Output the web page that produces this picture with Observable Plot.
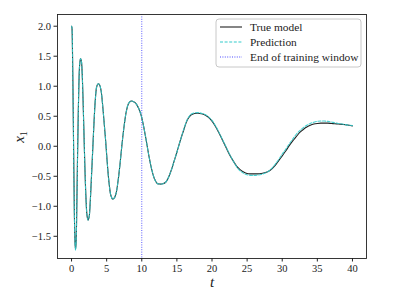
<!DOCTYPE html>
<html><head><meta charset="utf-8">
<script src="https://cdn.jsdelivr.net/npm/d3@7"></script>
<script src="https://cdn.jsdelivr.net/npm/@observablehq/plot@0.6"></script>
<style>
html,body{margin:0;padding:0;background:#fff;}
#chart{position:relative;width:407px;height:306px;}
</style>
</head><body><div id="chart"></div>
<script>
const tTrue = [0,0.05,0.12,0.2,0.3,0.4,0.5,0.57,0.65,0.75,0.85,0.95,1.05,1.15,1.28,1.4,1.5,1.62,1.75,1.9,2.05,2.2,2.35,2.5,2.65,2.8,3.0,3.2,3.4,3.6,3.8,4.0,4.2,4.4,4.6,4.85,5.1,5.35,5.6,5.85,6.1,6.35,6.6,6.9,7.2,7.5,7.8,8.1,8.4,8.7,9.0,9.3,9.6,9.9,10.2,10.6,11.0,11.4,11.8,12.2,12.6,13.0,13.4,13.8,14.2,14.6,15.0,15.5,16.0,16.5,17.0,17.5,18.0,18.5,19.0,19.5,20.0,20.5,21.0,21.5,22.0,22.5,23.0,23.5,24.0,24.5,25.0,25.5,26.0,26.5,27.0,27.5,28.0,28.5,29.0,29.5,30.0,30.5,31.0,31.5,32.0,32.5,33.0,33.5,34.0,34.5,35.0,35.5,36.0,36.5,37.0,37.5,38.0,38.5,39.0,39.5,40.0];
const xTrue = [2.0,1.98,1.7,1.0,-0.1,-1.1,-1.62,-1.72,-1.6,-1.0,-0.2,0.5,1.05,1.35,1.46,1.42,1.25,0.85,0.3,-0.35,-0.85,-1.15,-1.23,-1.18,-0.95,-0.6,-0.1,0.4,0.8,1.0,1.04,1.02,0.93,0.72,0.45,0.1,-0.3,-0.62,-0.82,-0.88,-0.86,-0.78,-0.6,-0.3,0.05,0.35,0.58,0.71,0.75,0.75,0.73,0.69,0.62,0.52,0.37,0.12,-0.15,-0.38,-0.54,-0.62,-0.63,-0.625,-0.6,-0.52,-0.4,-0.25,-0.1,0.1,0.28,0.44,0.52,0.545,0.55,0.54,0.52,0.48,0.42,0.33,0.22,0.1,-0.02,-0.14,-0.24,-0.33,-0.39,-0.43,-0.455,-0.46,-0.46,-0.46,-0.455,-0.44,-0.42,-0.38,-0.32,-0.24,-0.16,-0.08,0.01,0.09,0.16,0.23,0.28,0.32,0.35,0.37,0.38,0.385,0.385,0.385,0.38,0.375,0.37,0.365,0.36,0.35,0.34];
const tPred = [0,0.05,0.12,0.2,0.3,0.4,0.5,0.57,0.65,0.75,0.85,0.95,1.05,1.15,1.28,1.4,1.5,1.62,1.75,1.9,2.05,2.2,2.35,2.5,2.65,2.8,3.0,3.2,3.4,3.6,3.8,4.0,4.2,4.4,4.6,4.85,5.1,5.35,5.6,5.85,6.1,6.35,6.6,6.9,7.2,7.5,7.8,8.1,8.4,8.7,9.0,9.3,9.6,9.9,10.2,10.6,11.0,11.4,11.8,12.2,12.6,13.0,13.4,13.8,14.2,14.6,15.0,15.5,16.0,16.5,17.0,17.5,18.0,18.5,19.0,19.5,20.0,20.5,21.0,21.5,22.0,22.5,23.0,23.5,24.0,24.5,25.0,25.5,26.0,26.5,27.0,27.5,28.0,28.5,29.0,29.5,30.0,30.5,31.0,31.5,32.0,32.5,33.0,33.5,34.0,34.5,35.0,35.5,36.0,36.5,37.0,37.5,38.0,38.5,39.0,39.5,40.0];
const xPred = [2.0,1.98,1.7,1.0,-0.1,-1.1,-1.63,-1.73,-1.6,-1.0,-0.2,0.5,1.05,1.35,1.46,1.42,1.25,0.85,0.3,-0.35,-0.85,-1.15,-1.23,-1.18,-0.95,-0.6,-0.1,0.4,0.8,1.0,1.04,1.02,0.93,0.72,0.45,0.1,-0.3,-0.62,-0.82,-0.88,-0.86,-0.78,-0.6,-0.3,0.05,0.35,0.58,0.71,0.75,0.75,0.73,0.69,0.62,0.52,0.37,0.12,-0.15,-0.38,-0.54,-0.62,-0.63,-0.625,-0.6,-0.52,-0.4,-0.25,-0.1,0.1,0.29,0.45,0.53,0.555,0.56,0.55,0.53,0.49,0.43,0.34,0.23,0.11,-0.01,-0.13,-0.24,-0.34,-0.41,-0.45,-0.475,-0.485,-0.485,-0.48,-0.47,-0.45,-0.42,-0.37,-0.3,-0.22,-0.13,-0.05,0.04,0.12,0.2,0.26,0.31,0.35,0.38,0.4,0.415,0.42,0.42,0.415,0.405,0.39,0.38,0.37,0.36,0.35,0.345];
const trainEnd = [10];
const xTicks = [0,5,10,15,20,25,30,35,40];
const yTicks = [-1.5,-1.0,-0.5,0.0,0.5,1.0,1.5,2.0];
const legendLabels = ["True model","Prediction","End of training window"];

const trueData = tTrue.map((t,i)=>({t, x:xTrue[i]}));
const predData = tPred.map((t,i)=>({t, x:xPred[i]}));
const fmt = v => v.toFixed(1).replace("-", "\u2212");
const FONT = "'Liberation Serif','DejaVu Serif',serif";

const plot = Plot.plot({
  width: 407, height: 306,
  marginLeft: 57, marginRight: 41, marginTop: 14, marginBottom: 48,
  style: {fontFamily: FONT, fontSize: "10px", background: "#fff", color: "#222", overflow: "visible"},
  x: {domain: [-2, 42]},
  y: {domain: [-1.87, 2.195]},
  marks: [
    Plot.ruleX(trainEnd, {stroke: "#4a4aff", strokeWidth: 0.9, strokeDasharray: "1,1.4"}),
    Plot.line(trueData, {x: "t", y: "x", stroke: "#222", strokeWidth: 1.1, curve: "catmull-rom"}),
    Plot.line(predData, {x: "t", y: "x", stroke: "#33cccc", strokeWidth: 1.1, strokeDasharray: "3,1.6", strokeOpacity: 0.9, curve: "catmull-rom"}),
    Plot.frame({stroke: "#222", strokeWidth: 0.9}),
    Plot.axisX({ticks: xTicks, tickSize: 3.5, tickPadding: 3, tickFormat: d => String(d), label: null, fontSize: 10.5}),
    Plot.axisY({ticks: yTicks, tickSize: 3.5, tickPadding: 3, tickFormat: fmt, label: null, fontSize: 10.5}),
    Plot.text(["t"], {frameAnchor: "bottom", dy: 28, fontSize: 15, fontStyle: "italic", fontFamily: FONT}),
  ]
});
document.getElementById("chart").appendChild(plot);

const svg = d3.select(plot);
// y-axis label x₁ rotated
const yl = svg.append("text").attr("transform","translate(24,137) rotate(-90)")
  .attr("text-anchor","middle").attr("font-family",FONT).attr("font-size",15).attr("fill","#222");
yl.append("tspan").attr("font-style","italic").text("x");
yl.append("tspan").attr("font-size",10).attr("dy",3).text("1");

// legend
const lg = svg.append("g").attr("transform","translate(216,19)").attr("text-anchor","start");
lg.append("rect").attr("x",0).attr("y",0).attr("width",145).attr("height",48).attr("rx",3).attr("ry",3)
  .style("fill","#fff").style("fill-opacity",0.85).style("stroke","#c8c8c8").style("stroke-width","1px");
const styles = [
  {stroke:"#222", dash:"none"},
  {stroke:"#33cccc", dash:"3,1.6"},
  {stroke:"#4a4aff", dash:"1,1.4"}
];
legendLabels.forEach((lab,i)=>{
  const y = 8 + i*15;
  lg.append("line").attr("x1",4).attr("x2",26).attr("y1",y).attr("y2",y)
    .style("stroke",styles[i].stroke).style("stroke-width","1.1px").style("stroke-dasharray",styles[i].dash);
  lg.append("text").attr("x",34).attr("y",y).attr("dy","0.35em").attr("text-anchor","start")
    .attr("font-family",FONT).attr("font-size",11.4).attr("fill","#222").text(lab);
});
</script>
</body></html>
